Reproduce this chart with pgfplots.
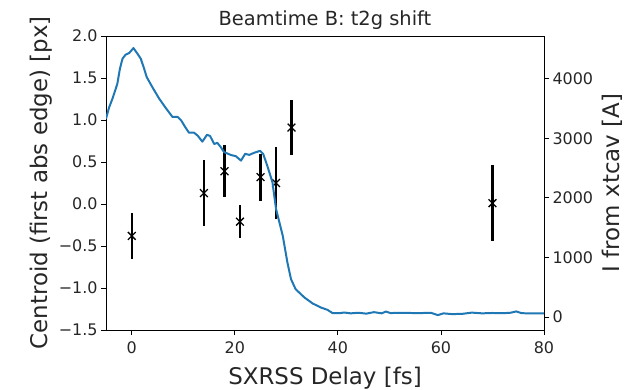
\documentclass[border=0pt]{standalone}
\usepackage{pgfplots}
\pgfplotsset{compat=1.18}
\usepackage{fontspec}
\setmainfont{DejaVu Sans}
\definecolor{mplblue}{HTML}{1F77B4}
\definecolor{tickgray}{HTML}{262626}
\pgfplotstableread{
x y e
0 -0.38 0.27
14 0.13 0.39
18 0.39 0.31
21 -0.21 0.20
25 0.32 0.28
28 0.25 0.43
31 0.91 0.33
70 0.01 0.45
}\centroid
\pgfplotstableread{
x I
-5 3330
-4.4 3520
-3.75 3665
-2.8 3917
-2.3 4170
-1.8 4338
-1.2 4406
-0.5 4434
0.33 4517
1.1 4423
1.75 4338
2.4 4170
2.9 4030
4.0 3860
5.3 3670
6.6 3510
7.9 3360
8.9 3360
9.6 3300
10.3 3200
11.1 3095
12.1 3095
12.8 3045
13.7 2945
14.6 3060
15.2 3040
16.0 2905
16.6 2925
17.3 2850
17.9 2770
19.2 2722
20.2 2700
21.2 2626
22.0 2740
22.8 2722
23.7 2756
24.9 2790
25.5 2740
26.3 2540
27.3 2263
28.0 1813
29.3 1364
30.2 916
30.9 635
31.8 466
33.5 327
35.1 226
36.7 158
38.0 118
39.0 62
40.3 62
41.2 74
42.5 60
44 70
45.5 55
47 80
48.5 60
49.3 90
50.2 65
52 68
54 66
56 64
58 70
59.4 30
60.5 60
62 48
64 50
66 72
68 60
70 66
72 62
73.5 70
74.6 92
75.7 62
78 60
80 58
}\current
\begin{document}
\begin{tikzpicture}
\pgfplotsset{
  every axis/.append style={
    scale only axis, width=438bp, height=294bp,
    xmin=-5, xmax=80,
    tick align=outside,
    major tick length=5bp,
    every tick/.style={black, line width=0.8pt},
    axis line style={black, line width=0.8pt},
    tick label style={font=\fontsize{16}{19}\selectfont, text=tickgray},
    label style={font=\fontsize{23}{27}\selectfont, text=tickgray},
    /pgf/number format/assume math mode=true,
    /pgf/number format/1000 sep={},
  },
}
\begin{axis}[
  name=ax,
  ymin=-1.5, ymax=2.0,
  ytick={-1.5,-1.0,-0.5,0,0.5,1.0,1.5,2.0},
  yticklabels={−1.5,−1.0,−0.5,0.0,0.5,1.0,1.5,2.0},
  xtick={0,20,40,60,80},
  xtick pos=lower, ytick pos=left,
  xticklabel style={yshift=-3bp},
  xlabel={SXRSS Delay [fs]},
  ylabel={Centroid (first abs edge) [px]},
  title={Beamtime B: t2g shift},
  title style={font=\fontsize{19.5}{23}\selectfont, text=tickgray, yshift=-3bp},
  xlabel style={yshift=-7bp},
]
\addplot[black, only marks, mark=x, mark size=5.5bp, mark options={line width=1.3pt},
  error bars/.cd, y dir=both, y explicit, error mark=none,
  error bar style={line width=2.2pt, black}]
  table[x=x, y=y, y error=e] {\centroid};
\end{axis}
\begin{axis}[
  ymin=-220, ymax=4720,
  ytick={0,1000,2000,3000,4000},
  axis x line=none,
  axis y line*=right,
  ytick pos=right,
  ylabel={I from xtcav [A]},
  ylabel style={yshift=-2bp},
]
\addplot[mplblue, line width=2pt, no marks, line join=round] table[x=x, y=I] {\current};
\end{axis}
\pgfresetboundingbox
\path ([shift={(-106bp,-59bp)}]ax.south west) rectangle ([shift={(84bp,36bp)}]ax.north east);
\end{tikzpicture}
\end{document}
